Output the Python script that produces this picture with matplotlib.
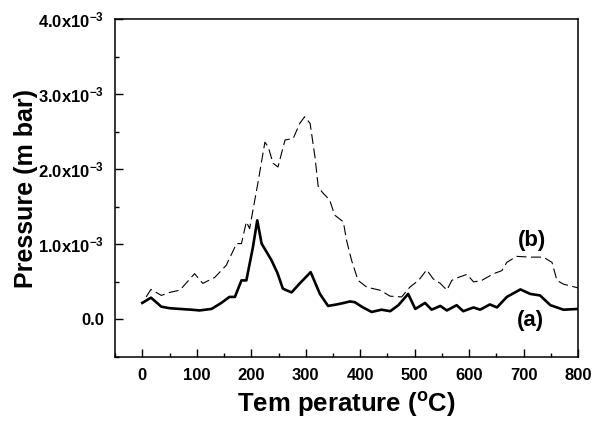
import matplotlib
matplotlib.use("Agg")
import matplotlib.pyplot as plt
from matplotlib.ticker import MultipleLocator, FuncFormatter

plt.rcParams['font.family'] = ['Liberation Sans', 'DejaVu Sans']
plt.rcParams['mathtext.fontset'] = 'custom'
plt.rcParams['mathtext.rm'] = 'Liberation Sans:bold'
plt.rcParams['mathtext.bf'] = 'Liberation Sans:bold'
plt.rcParams['mathtext.it'] = 'Liberation Sans:bold'

# Curve (a): solid
temp_a = [0, 16, 35, 50, 69, 90, 105, 127, 145, 160, 170, 182, 191, 203, 211, 219, 237, 248, 258, 274,
          289, 309, 326, 341, 357, 370, 381, 390, 405, 421, 439, 455, 470, 488, 501, 519, 531,
          547, 559, 577, 589, 608, 620, 638, 651, 669, 694, 712, 730, 749, 773, 800]
press_a = [0.22, 0.29, 0.17, 0.15, 0.14, 0.13, 0.12, 0.14, 0.22, 0.30, 0.30, 0.52, 0.52, 0.96, 1.32, 1.01,
           0.79, 0.62, 0.41, 0.36, 0.48, 0.63, 0.34, 0.18, 0.20, 0.22, 0.24, 0.23, 0.16, 0.10, 0.13, 0.11,
           0.19, 0.34, 0.14, 0.22, 0.13, 0.18, 0.12, 0.19, 0.11, 0.16, 0.13, 0.20, 0.16,
           0.30, 0.40, 0.34, 0.32, 0.19, 0.13, 0.14]

# Curve (b): dashed
temp_b = [7, 16, 35, 50, 69, 96, 111, 133, 154, 173, 182, 191, 197, 213, 225, 231, 240,
          249, 262, 277, 289, 298, 308, 317, 323, 332, 344, 353, 369, 375, 384, 396,
          412, 436, 455, 476, 491, 507, 522, 534, 547, 559, 568, 580, 596, 608, 623,
          645, 660, 669, 687, 712, 736, 752, 761, 773, 800]
press_b = [0.30, 0.40, 0.32, 0.36, 0.39, 0.61, 0.48, 0.56, 0.72, 1.01, 1.01, 1.30, 1.21,
           1.85, 2.36, 2.30, 2.08, 2.03, 2.39, 2.41, 2.61, 2.70, 2.61, 2.16, 1.76, 1.68,
           1.59, 1.39, 1.30, 1.05, 0.79, 0.52, 0.43, 0.39, 0.31, 0.30, 0.43, 0.52, 0.66,
           0.54, 0.48, 0.39, 0.52, 0.56, 0.60, 0.50, 0.52, 0.61, 0.65, 0.76, 0.84, 0.83,
           0.83, 0.76, 0.52, 0.47, 0.42]

scale = 1e-3
fig = plt.figure(figsize=(5.93, 4.23), dpi=100)
ax = fig.add_axes([0.194, 0.156, 0.781, 0.799])

ax.plot(temp_a, [p * scale for p in press_a], color='black', lw=1.9)
lb, = ax.plot(temp_b, [p * scale for p in press_b], color='black', lw=0.8)
lb.set_dashes([9, 4])

ax.set_xlim(-50, 800)
ax.set_ylim(-0.5e-3, 4.0e-3)
ax.xaxis.set_major_locator(MultipleLocator(100))
ax.xaxis.set_minor_locator(MultipleLocator(50))
ax.yaxis.set_major_locator(MultipleLocator(1e-3))
ax.yaxis.set_minor_locator(MultipleLocator(0.5e-3))

def yfmt(v, pos):
    if abs(v) < 1e-9:
        return '0.0'
    return r'$%.1f\mathrm{x}10^{-3}$' % (v / 1e-3)

ax.yaxis.set_major_formatter(FuncFormatter(yfmt))

ax.tick_params(which='both', direction='in', width=1.0)
ax.tick_params(which='major', length=5.5, labelsize=12, pad=8)
ax.tick_params(which='minor', length=3)
for lbl in ax.get_xticklabels() + ax.get_yticklabels():
    lbl.set_fontweight('bold')
for s in ax.spines.values():
    s.set_linewidth(1.1)

ax.set_xlabel('Tem perature ($^{\\mathrm{o}}$C)', fontsize=18.5, fontweight='bold', labelpad=5)
ax.set_ylabel('Pressure (m bar)', fontsize=18, fontweight='bold', labelpad=0)

ax.text(716, 1.05e-3, '(b)', fontsize=16, fontweight='bold', ha='center', va='center')
ax.text(712, -0.02e-3, '(a)', fontsize=16, fontweight='bold', ha='center', va='center')

fig.savefig('out.png', dpi=100)
